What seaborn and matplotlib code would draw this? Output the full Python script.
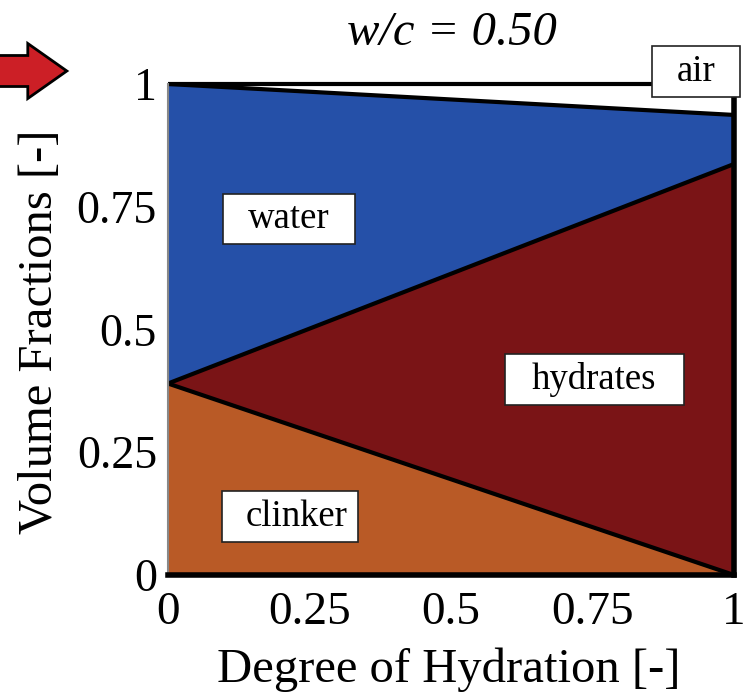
import numpy as np
import pandas as pd
import matplotlib
matplotlib.use("Agg")
import matplotlib.pyplot as plt
import seaborn as sns
from matplotlib.patches import FancyArrow, Rectangle

# data
hydration = [0.0, 1.0]
clinker = [0.39, 0.0]
hydrates_top = [0.39, 0.837]
water_top = [1.0, 0.937]
ticks = [0, 0.25, 0.5, 0.75, 1]
tick_labels = ["0", "0.25", "0.5", "0.75", "1"]
phase_names = ["water", "hydrates", "clinker", "air"]

sns.set_theme(style="white")
plt.rcParams['font.family'] = ['Liberation Serif', 'DejaVu Serif']
plt.rcParams['text.color'] = 'black'
plt.rcParams['xtick.color'] = 'black'
plt.rcParams['ytick.color'] = 'black'
plt.rcParams['axes.labelcolor'] = 'black'

fig = plt.figure(figsize=(7.51, 6.92), dpi=100)
ax = fig.add_axes([168 / 751, 1 - 575 / 692, 566 / 751, 491 / 692])

c_clinker = "#b95a26"
c_hyd = "#7a1416"
c_water = "#2550a8"

ax.fill_between(hydration, 0, clinker, color=c_clinker, lw=0)
ax.fill_between(hydration, clinker, hydrates_top, color=c_hyd, lw=0)
ax.fill_between(hydration, hydrates_top, water_top, color=c_water, lw=0)

df = pd.DataFrame({"x": hydration * 3,
                   "y": clinker + hydrates_top + water_top,
                   "b": ["c"] * 2 + ["h"] * 2 + ["w"] * 2})
sns.lineplot(data=df, x="x", y="y", units="b", estimator=None,
             color="black", lw=3, ax=ax, legend=False)
ax.plot([0, 0.855], [1.0, 1.0], color="black", lw=3, clip_on=False, solid_capstyle="butt")

ax.set_xlim(0, 1)
ax.set_ylim(0, 1)
ax.set_xticks(ticks)
ax.set_xticklabels(tick_labels)
ax.set_yticks(ticks)
ax.set_yticklabels(tick_labels)
ax.tick_params(axis="x", labelsize=34, length=0, pad=12, labelcolor="black")
ax.tick_params(axis="y", labelsize=33, length=0, pad=8, labelcolor="black")
ax.set_xlabel("")
ax.set_ylabel("")
fig.text(449 / 751, 1 - 682 / 692, "Degree of Hydration [-]", fontsize=35,
         ha="center", va="baseline", color="black")
fig.text(40 / 751, 1 - 332 / 692, "Volume Fractions [-]", fontsize=35,
         rotation=90, ha="center", va="center", color="black")

ax.spines["top"].set_visible(False)
ax.spines["right"].set_color("black")
ax.spines["right"].set_linewidth(4)
ax.spines["bottom"].set_color("black")
ax.spines["bottom"].set_linewidth(4)
ax.spines["left"].set_color("#888888")
ax.spines["left"].set_linewidth(1.5)

# label boxes (x0, y0, x1, y1) and text centers
boxes = [(0.097, 0.674, 0.331, 0.776), (0.596, 0.346, 0.912, 0.450),
         (0.096, 0.067, 0.336, 0.171), (0.855, 0.974, 1.011, 1.077)]
centers = [(0.213, 0.725), (0.752, 0.399), (0.228, 0.119), (0.933, 1.024)]
for name, (x0, y0, x1, y1), (cx, cy) in zip(phase_names, boxes, centers):
    ax.add_patch(Rectangle((x0, y0), x1 - x0, y1 - y0, fc="white", ec="#222222",
                           lw=1.2, clip_on=False, zorder=5))
    ax.text(cx, cy, name, fontsize=26.5, ha="center", va="center",
            clip_on=False, zorder=6, color="black")

fig.text(452 / 751, 1 - 33 / 692, "w/c = 0.50", fontsize=35, style="italic",
         ha="center", va="center", color="black")

arrow = FancyArrow(-0.02, 1 - 71 / 692, 0.109, 0.0, width=0.0448, head_width=0.0795,
                   head_length=0.052, length_includes_head=True,
                   transform=fig.transFigure, fc="#cc1f26", ec="black", lw=2)
fig.patches.append(arrow)

fig.savefig("out.png", dpi=100)
